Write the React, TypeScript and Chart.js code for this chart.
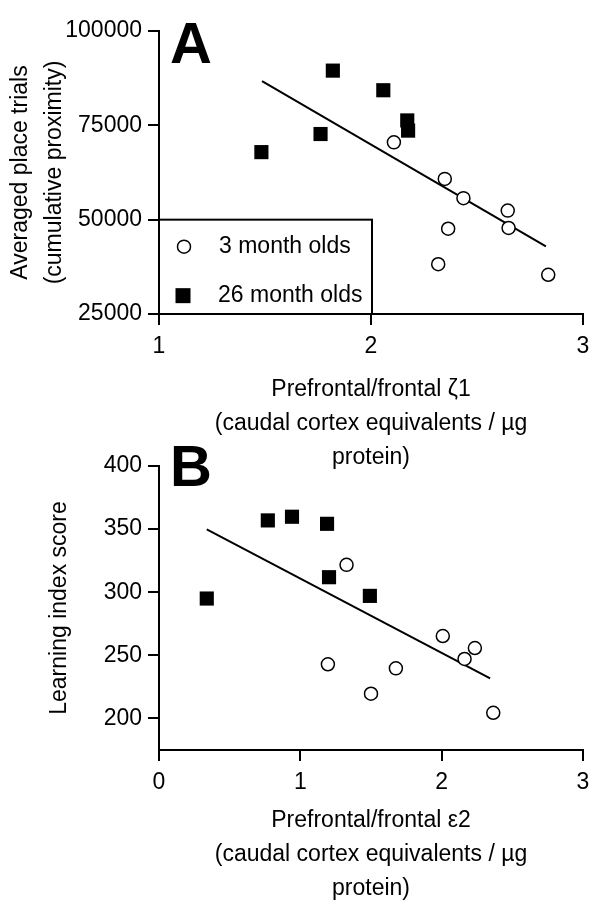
import React, { useEffect, useRef } from "react";
import { Chart, registerables } from "chart.js";

Chart.register(...registerables);

const FONT = "'Liberation Sans', Arial, Helvetica, sans-serif";

// ---------- Data ----------
const seriesNames = ["3 month olds", "26 month olds"];

// Panel A
const aYoungX = [2.108, 2.348, 2.436, 2.645, 2.649, 2.364, 2.317, 2.836];
const aYoungY = [70500, 60800, 55700, 52400, 47800, 47600, 38200, 35400];
const aOldX = [1.483, 1.762, 1.82, 2.058, 2.171, 2.175];
const aOldY = [67900, 72700, 89500, 84300, 76300, 73600];
const aFitX = [1.486, 2.825];
const aFitY = [86700, 42900];
const aXTicks = [1, 2, 3];
const aYTicks = [25000, 50000, 75000, 100000];
const aXTitle = ["Prefrontal/frontal \u03B61", "(caudal cortex equivalents / \u00B5g", "protein)"];
const aYTitle = ["Averaged place trials", "(cumulative proximity)"];

// Panel B
const bYoungX = [1.327, 1.195, 1.5, 1.676, 2.008, 2.162, 2.235, 2.365];
const bYoungY = [321.7, 242.9, 219.6, 239.7, 265.3, 247.1, 255.8, 204.5];
const bOldX = [0.338, 0.77, 0.941, 1.189, 1.203, 1.492];
const bOldY = [295, 356.9, 359.8, 354.2, 311.9, 297.1];
const bFitX = [0.338, 2.343];
const bFitY = [349.7, 231.7];
const bXTicks = [0, 1, 2, 3];
const bYTicks = [200, 250, 300, 350, 400];
const bXTitle = ["Prefrontal/frontal \u03B52", "(caudal cortex equivalents / \u00B5g", "protein)"];
const bYTitle = "Learning index score";

const zip = (xs: number[], ys: number[]) => xs.map((x, i) => ({ x, y: ys[i] }));

// ---------- Plugins ----------
const panelLetterPlugin = {
  id: "panelLetter",
  afterDraw(chart: any, _args: any, opts: any) {
    if (!opts || !opts.text) return;
    const { ctx, chartArea } = chart;
    ctx.save();
    ctx.fillStyle = "#000";
    ctx.font = `bold ${opts.size}px ${FONT}`;
    ctx.textAlign = "left";
    ctx.textBaseline = "alphabetic";
    ctx.fillText(opts.text, chartArea.left + opts.dx, chartArea.top + opts.dy);
    ctx.restore();
  },
};

const boxLegendPlugin = {
  id: "boxLegend",
  afterDraw(chart: any, _args: any, opts: any) {
    if (!opts || !opts.display) return;
    const { ctx, scales } = chart;
    const xs = scales.x;
    const ys = scales.y;
    const left = xs.left;
    const right = xs.getPixelForValue(opts.rightValue) + 1;
    const top = ys.getPixelForValue(opts.topValue);
    const bottom = ys.bottom;
    ctx.save();
    ctx.strokeStyle = "#000";
    ctx.lineWidth = 2;
    ctx.strokeRect(left, top, right - left, bottom - top);
    ctx.font = `23px ${FONT}`;
    ctx.textBaseline = "middle";
    ctx.textAlign = "left";
    ctx.fillStyle = "#000";
    // item 1: open circle
    const y1 = top + 27;
    ctx.beginPath();
    ctx.lineWidth = 1.5;
    ctx.arc(left + 25, y1, 6.5, 0, Math.PI * 2);
    ctx.fillStyle = "#fff";
    ctx.fill();
    ctx.stroke();
    ctx.fillStyle = "#000";
    ctx.fillText(seriesNames[0], left + 60, y1);
    // item 2: filled square
    const y2 = top + 76;
    ctx.fillRect(left + 24 - 7.5, y2 - 7.5, 15, 15);
    ctx.fillText(seriesNames[1], left + 59, y2);
    ctx.restore();
  },
};

// ---------- Config builder ----------
function makeConfig(p: {
  young: { x: number; y: number }[];
  old: { x: number; y: number }[];
  fit: { x: number; y: number }[];
  xMin: number;
  xMax: number;
  yMin: number;
  yMax: number;
  xTicks: number[];
  yTicks: number[];
  xTitle: string[];
  yTitle: string | string[];
  yTitlePadTop: number;
  padTop: number;
  xAxisHeight: number;
  xTitlePadBottom: number;
  letter: string;
  letterDy: number;
  legend: boolean;
}) {
  const tickFont = { family: FONT, size: 23 };
  const titleFont = { family: FONT, size: 23, lineHeight: 34 / 23 };
  return {
    type: "scatter" as const,
    data: {
      datasets: [
        {
          label: seriesNames[0],
          data: p.young,
          pointStyle: "circle",
          pointRadius: 6.5,
          pointBorderWidth: 1.5,
          pointBackgroundColor: "#fff",
          pointBorderColor: "#000",
          showLine: false,
          order: 1,
        },
        {
          label: seriesNames[1],
          data: p.old,
          pointStyle: "rect",
          pointRadius: 10,
          pointBorderWidth: 0,
          pointBackgroundColor: "#000",
          pointBorderColor: "#000",
          showLine: false,
          order: 2,
        },
        {
          label: "fit",
          data: p.fit,
          showLine: true,
          borderColor: "#000",
          borderWidth: 2,
          pointRadius: 0,
          fill: false,
          order: 3,
        },
      ],
    },
    options: {
      responsive: false,
      animation: false as const,
      layout: { padding: { left: 0, right: 17, top: p.padTop, bottom: 0 } },
      plugins: {
        legend: { display: false },
        tooltip: { enabled: false },
        panelLetter: { text: p.letter, size: 58, dx: 11, dy: p.letterDy },
        boxLegend: { display: p.legend, rightValue: 2, topValue: 50000 },
      },
      scales: {
        x: {
          type: "linear" as const,
          min: p.xMin,
          max: p.xMax,
          afterBuildTicks: (s: any) => {
            s.ticks = p.xTicks.map((v) => ({ value: v }));
          },
          afterFit: (s: any) => {
            s.height = p.xAxisHeight;
          },
          ticks: {
            font: tickFont,
            color: "#000",
            padding: 8,
            maxRotation: 0,
            autoSkip: false,
            callback: (v: any) => String(v),
          },
          grid: {
            display: true,
            drawOnChartArea: false,
            drawTicks: true,
            tickLength: 11,
            color: "#000",
            lineWidth: 2,
          },
          border: { display: true, color: "#000", width: 2 },
          title: {
            display: true,
            text: p.xTitle,
            font: titleFont,
            color: "#000",
            padding: { top: 0, bottom: p.xTitlePadBottom },
          },
        },
        y: {
          type: "linear" as const,
          min: p.yMin,
          max: p.yMax,
          afterBuildTicks: (s: any) => {
            s.ticks = p.yTicks.map((v) => ({ value: v }));
          },
          afterFit: (s: any) => {
            s.width = 159;
          },
          ticks: {
            font: tickFont,
            color: "#000",
            padding: 6,
            autoSkip: false,
            callback: (v: any) => String(v),
          },
          grid: {
            display: true,
            drawOnChartArea: false,
            drawTicks: true,
            tickLength: 11,
            color: "#000",
            lineWidth: 2,
          },
          border: { display: true, color: "#000", width: 2 },
          title: {
            display: true,
            text: p.yTitle,
            font: titleFont,
            color: "#000",
            padding: { top: p.yTitlePadTop, bottom: 0 },
          },
        },
      },
    },
    plugins: [panelLetterPlugin, boxLegendPlugin],
  };
}

const configA = () =>
  makeConfig({
    young: zip(aYoungX, aYoungY),
    old: zip(aOldX, aOldY),
    fit: zip(aFitX, aFitY),
    xMin: 1,
    xMax: 3,
    yMin: 25000,
    yMax: 100000,
    xTicks: aXTicks,
    yTicks: aYTicks,
    xTitle: aXTitle,
    yTitle: aYTitle,
    yTitlePadTop: 4,
    padTop: 31,
    xAxisHeight: 475 - 314,
    xTitlePadBottom: 0,
    letter: "A",
    letterDy: 32,
    legend: true,
  });

const configB = () =>
  makeConfig({
    young: zip(bYoungX, bYoungY),
    old: zip(bOldX, bOldY),
    fit: zip(bFitX, bFitY),
    xMin: 0,
    xMax: 3,
    yMin: 175,
    yMax: 400,
    xTicks: bXTicks,
    yTicks: bYTicks,
    xTitle: bXTitle,
    yTitle: bYTitle,
    yTitlePadTop: 43,
    padTop: 26,
    xAxisHeight: 469 - 310,
    xTitlePadBottom: 3,
    letter: "B",
    letterDy: 20,
    legend: false,
  });

export default function App() {
  const refA = useRef<HTMLCanvasElement>(null);
  const refB = useRef<HTMLCanvasElement>(null);
  useEffect(() => {
    const a = new Chart(refA.current as HTMLCanvasElement, configA() as any);
    const b = new Chart(refB.current as HTMLCanvasElement, configB() as any);
    return () => {
      a.destroy();
      b.destroy();
    };
  }, []);
  return (
    <div style={{ position: "absolute", left: 0, top: 0, width: 600, height: 909, background: "#fff" }}>
      <canvas ref={refA} width={600} height={475} style={{ position: "absolute", left: 0, top: 0 }} />
      <canvas ref={refB} width={600} height={469} style={{ position: "absolute", left: 0, top: 440 }} />
    </div>
  );
}
